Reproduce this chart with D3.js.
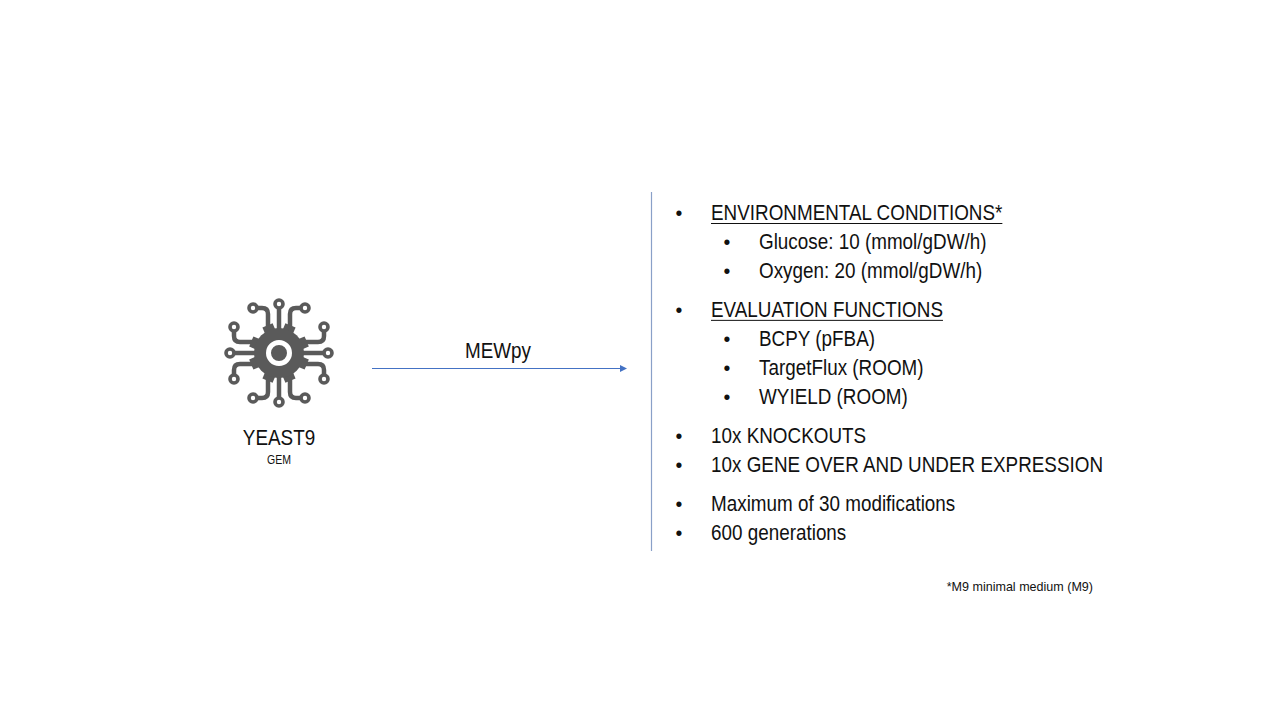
<!DOCTYPE html>
<html lang="en">
<head>
<meta charset="utf-8">
<title>MEWpy - YEAST9 setup</title>
<script src="https://cdn.jsdelivr.net/npm/d3@7"></script>
<style>
  html, body { margin: 0; padding: 0; background: #fff; }
  svg text { font-family: "Liberation Sans", Arial, sans-serif; fill: #111; }
</style>
</head>
<body>
<svg id="chart" width="1280" height="720"></svg>
<script>
// list content, one entry per line
var items = [
    "ENVIRONMENTAL CONDITIONS*",
    "Glucose:  10 (mmol/gDW/h)",
    "Oxygen: 20 (mmol/gDW/h)",
    "EVALUATION FUNCTIONS",
    "BCPY (pFBA)",
    "TargetFlux (ROOM)",
    "WYIELD (ROOM)",
    "10x KNOCKOUTS",
    "10x GENE OVER AND UNDER EXPRESSION",
    "Maximum of 30 modifications",
    "600 generations"
];
var levels    = [1, 2, 2, 1, 2, 2, 2, 1, 1, 1, 1];
var groups    = [0, 0, 0, 1, 1, 1, 1, 2, 2, 3, 3];
var underline = [true, false, false, true, false, false, false, false, false, false, false];

var modelName  = "YEAST9";
var modelType  = "GEM";
var toolName   = "MEWpy";
var footnote   = "*M9 minimal medium (M9)";

var svg = d3.select("#chart");
var ink = "#5a5a5a";
var blue = "#4472c4";
var fs = 21.5;

// row position: one step per line plus a small gap between groups
var rowY = d3.scaleLinear().domain([0, 1]).range([220, 249]);
var groupGap = 0.34;
var levelX = d3.scaleOrdinal().domain([1, 2]).range([711, 759]);

// ---- icon ----
var icon = svg.append("g").attr("transform", "translate(279,353)");

[0, 90, 180, 270].forEach(function(a) {
    var b = icon.append("g").attr("transform", "rotate(" + a + ")");
    b.append("path")
        .attr("d", "M0,-44 V-24")
        .attr("stroke", ink).attr("stroke-width", 4.5).attr("fill", "none");
    [-1, 1].forEach(function(s) {
        b.append("path")
            .attr("d", "M" + (s * 22) + ",-45 H" + (s * 17) + " Q" + (s * 11) + ",-45 " + (s * 11) + ",-39 V-24")
            .attr("stroke", ink).attr("stroke-width", 4.5).attr("fill", "none");
        b.append("circle").attr("cx", s * 26).attr("cy", -45).attr("r", 4)
            .attr("fill", "#fff").attr("stroke", ink).attr("stroke-width", 3.6);
    });
    b.append("circle").attr("cx", 0).attr("cy", -49).attr("r", 4)
        .attr("fill", "#fff").attr("stroke", ink).attr("stroke-width", 3.6);
});

d3.range(8).forEach(function(i) {
    icon.append("rect")
        .attr("x", -5.5).attr("y", -30).attr("width", 11).attr("height", 12)
        .attr("fill", ink)
        .attr("transform", "rotate(" + (i * 45 + 22.5) + ")");
});
icon.append("circle").attr("r", 25).attr("fill", ink);
icon.append("circle").attr("r", 10.5).attr("fill", "none").attr("stroke", "#fff").attr("stroke-width", 5);

var others = svg.append("g");
others.append("text").attr("data-x", 279).attr("y", 445).attr("text-anchor", "middle")
    .attr("font-size", fs).text(modelName);
others.append("text").attr("data-x", 279).attr("y", 464).attr("text-anchor", "middle")
    .attr("font-size", 12).text(modelType);

// ---- arrow ----
svg.append("line").attr("x1", 372).attr("x2", 620).attr("y1", 368.5).attr("y2", 368.5)
    .attr("stroke", blue).attr("stroke-width", 1.2);
svg.append("path").attr("d", "M620,365 L627,368.5 L620,372 Z").attr("fill", blue);
others.append("text").attr("data-x", 498).attr("y", 358).attr("text-anchor", "middle")
    .attr("font-size", fs).text(toolName);

// ---- divider ----
svg.append("line").attr("x1", 651.5).attr("x2", 651.5).attr("y1", 192).attr("y2", 551)
    .attr("stroke", "#8aa0c8").attr("stroke-width", 1.2);

// ---- list ----
var rows = svg.append("g").selectAll("g").data(items).join("g")
    .attr("transform", function(d, i) { return "translate(0," + rowY(i + groups[i] * groupGap) + ")"; });

rows.append("text")
    .attr("class", "bullet")
    .attr("x", function(d, i) { return levelX(levels[i]) - 32; })
    .attr("text-anchor", "middle")
    .attr("font-size", fs - 2)
    .text("\u2022");

var labels = rows.append("text")
    .attr("class", "label")
    .attr("font-size", fs)
    .text(function(d) { return d; });

// horizontal squeeze (Bahnschrift-like); balanced between the caps and mixed-case lines
var widest = labels.filter(function(d, i) { return i === 8; }).node();
var k = 1.035 * 379 / widest.getComputedTextLength();

labels.attr("transform", function(d, i) { return "translate(" + levelX(levels[i]) + ",0) scale(" + k + ",1)"; });
others.selectAll("text")
    .attr("transform", function() { return "translate(" + this.getAttribute("data-x") + ",0) scale(" + k + ",1)"; });

rows.filter(function(d, i) { return underline[i]; })
    .append("line")
    .attr("x1", levelX(1))
    .attr("x2", function() {
        var t = d3.select(this.parentNode).select(".label").node();
        return levelX(1) + k * t.getComputedTextLength();
    })
    .attr("y1", 3.5).attr("y2", 3.5)
    .attr("stroke", "#111").attr("stroke-width", 1);

svg.append("text")
    .attr("transform", "translate(1093,591) scale(" + (k * 1.1) + ",1)")
    .attr("text-anchor", "end")
    .attr("font-size", 13).text(footnote);
</script>
</body>
</html>
